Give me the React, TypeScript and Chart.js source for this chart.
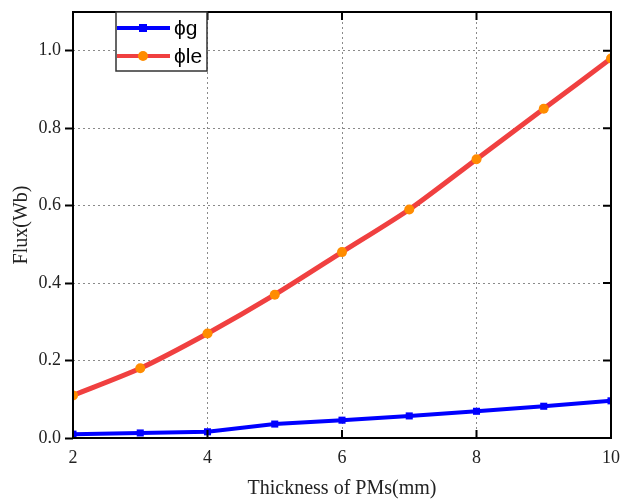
import React, { useEffect, useRef } from "react";
import { Chart, registerables } from "chart.js";

Chart.register(...registerables);

const thickness = [2, 3, 4, 5, 6, 7, 8, 9, 10];
const phiG = [0.01, 0.013, 0.016, 0.036, 0.046, 0.057, 0.069, 0.082, 0.096];
const phiLe = [0.11, 0.18, 0.27, 0.37, 0.48, 0.59, 0.72, 0.85, 0.98];
const legendLabels = ["\u03d5g", "\u03d5le"];
const xTitle = "Thickness of PMs(mm)";
const yTitle = "Flux(Wb)";

const BLUE = "#0000ff";
const RED = "#f04040";
const ORANGE = "#ff8c00";

const framePlugin = {
  id: "frame",
  afterDraw(chart: any) {
    const { ctx, chartArea: a, scales } = chart;
    const xs = scales.x;
    const ys = scales.y;
    ctx.save();
    ctx.strokeStyle = "#000";
    ctx.lineWidth = 2;
    ctx.setLineDash([]);
    ctx.strokeRect(a.left, a.top, a.right - a.left, a.bottom - a.top);
    ctx.beginPath();
    [4, 6, 8].forEach((v) => {
      const px = xs.getPixelForValue(v);
      ctx.moveTo(px, a.bottom);
      ctx.lineTo(px, a.bottom - 8);
      ctx.moveTo(px, a.top);
      ctx.lineTo(px, a.top + 8);
    });
    [0.2, 0.4, 0.6, 0.8, 1.0].forEach((v) => {
      const py = ys.getPixelForValue(v);
      ctx.moveTo(a.right, py);
      ctx.lineTo(a.right - 8, py);
    });
    ctx.stroke();

    // legend
    const lx = 116, ly = a.top, lw = 91, lh = 59;
    ctx.fillStyle = "#fff";
    ctx.fillRect(lx, ly, lw, lh);
    ctx.lineWidth = 1.5;
    ctx.strokeStyle = "#333";
    ctx.strokeRect(lx, ly, lw, lh);
    const rows = [
      { y: ly + 16, color: BLUE, marker: "square", label: legendLabels[0] },
      { y: ly + 44, color: RED, marker: "circle", label: legendLabels[1] },
    ];
    rows.forEach((r) => {
      ctx.strokeStyle = r.color;
      ctx.lineWidth = 4;
      ctx.beginPath();
      ctx.moveTo(lx + 1, r.y);
      ctx.lineTo(lx + 54, r.y);
      ctx.stroke();
      if (r.marker === "square") {
        ctx.fillStyle = BLUE;
        ctx.fillRect(lx + 23, r.y - 4, 8, 8);
      } else {
        ctx.fillStyle = ORANGE;
        ctx.beginPath();
        ctx.arc(lx + 27, r.y, 5, 0, Math.PI * 2);
        ctx.fill();
      }
      ctx.fillStyle = "#000";
      ctx.font = "21px 'Liberation Sans', Arial, sans-serif";
      ctx.textBaseline = "middle";
      ctx.textAlign = "left";
      ctx.fillText(r.label, lx + 58, r.y + 1);
    });
    ctx.restore();
  },
};

export default function App() {
  const ref = useRef<HTMLCanvasElement>(null);
  useEffect(() => {
    document.body.style.margin = "0";
    const serif = "'Liberation Serif', 'Times New Roman', serif";
    const chart = new Chart(ref.current!, {
      type: "line",
      data: {
        datasets: [
          {
            label: legendLabels[0],
            data: thickness.map((x, i) => ({ x, y: phiG[i] })),
            borderColor: BLUE,
            backgroundColor: BLUE,
            borderWidth: 4,
            pointStyle: "rect",
            pointRadius: 5,
            pointBorderWidth: 0,
            pointBackgroundColor: BLUE,
          },
          {
            label: legendLabels[1],
            data: thickness.map((x, i) => ({ x, y: phiLe[i] })),
            borderColor: RED,
            backgroundColor: ORANGE,
            borderWidth: 5,
            pointStyle: "circle",
            pointRadius: 5,
            pointBorderWidth: 0,
            pointBackgroundColor: ORANGE,
            tension: 0.25,
          },
        ],
      },
      options: {
        animation: false,
        responsive: false,
        layout: { padding: { top: 12, right: 11, left: 0, bottom: 0 } },
        plugins: { legend: { display: false }, tooltip: { enabled: false } },
        scales: {
          x: {
            type: "linear",
            min: 2,
            max: 10,
            ticks: {
              stepSize: 2,
              color: "#222",
              font: { family: serif, size: 18 },
              padding: 9,
            },
            grid: {
              drawTicks: false,
              color: (c: any) =>
                c.tick && (c.tick.value === 2 || c.tick.value === 10) ? "transparent" : "#8a8a8a",
              lineWidth: 1,
            },
            border: { display: false, dash: [2, 3] },
            title: {
              display: true,
              text: xTitle,
              color: "#222",
              font: { family: serif, size: 20 },
              padding: { top: 0, bottom: 1 },
            },
            afterFit: (s: any) => {
              s.height = 64;
              s.paddingLeft = 0;
              s.paddingRight = 0;
            },
          },
          y: {
            min: 0,
            max: 1.1,
            ticks: {
              stepSize: 0.2,
              color: "#222",
              font: { family: serif, size: 18 },
              padding: 4,
              callback: (v: any) => Number(v).toFixed(1),
            },
            afterBuildTicks: (s: any) => {
              s.ticks = s.ticks.filter((t: any) => t.value <= 1.0001);
            },
            grid: {
              drawTicks: true,
              tickLength: 8,
              tickColor: "#000",
              tickWidth: 2,
              tickBorderDash: [],
              color: (c: any) =>
                c.tick && c.tick.value === 0 ? "transparent" : "#8a8a8a",
              lineWidth: 1,
            },
            border: { display: false, dash: [2, 3] },
            title: {
              display: true,
              text: yTitle,
              color: "#222",
              font: { family: serif, size: 20 },
              padding: { top: 10, bottom: 0 },
            },
            afterFit: (s: any) => {
              s.width = 73;
              s.paddingTop = 0;
              s.paddingBottom = 0;
            },
          },
        },
      },
      plugins: [framePlugin],
    });
    return () => chart.destroy();
  }, []);
  return (
    <div style={{ width: 622, height: 502 }}>
      <canvas ref={ref} width={622} height={502} />
    </div>
  );
}
